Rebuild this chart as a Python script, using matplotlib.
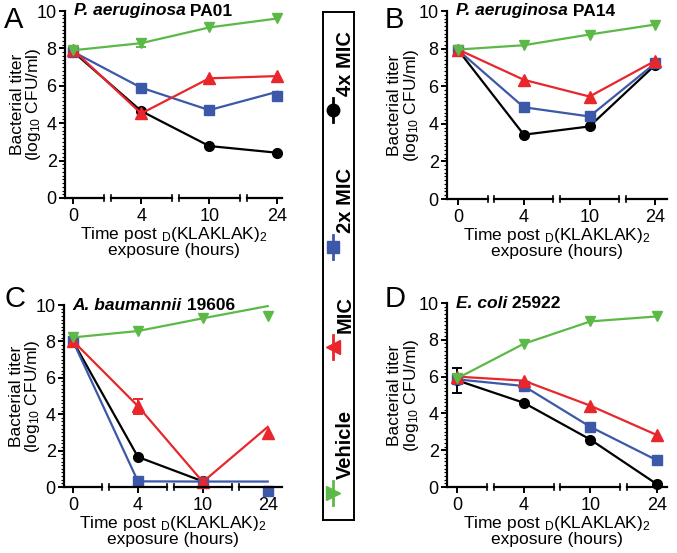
import numpy as np
import matplotlib
matplotlib.use('Agg')
import matplotlib.pyplot as plt
from matplotlib.ticker import MultipleLocator

plt.rcParams['font.family'] = ['Liberation Sans', 'DejaVu Sans']
plt.rcParams['mathtext.fontset'] = 'custom'
plt.rcParams['mathtext.rm'] = 'Liberation Sans'
plt.rcParams['mathtext.it'] = 'Liberation Sans:italic'

# Data (log10 CFU/ml)
time_labels = ['0', '4', '10', '24']

a_vehicle = [7.9, 8.28, 9.12, 9.6]
a_mic = [7.92, 4.52, 6.4, 6.52]
a_2x = [7.82, 5.9, 4.7, 5.45]
a_2x_line = [7.82, 5.9, 4.7, 5.68]
a_4x = [7.82, 4.65, 2.78, 2.42]
a_vehicle_err = [0, 0.22, 0, 0]

b_vehicle = [7.95, 8.18, 8.75, 9.28]
b_mic = [7.95, 6.34, 5.45, 7.35]
b_2x = [7.92, 4.88, 4.39, 7.22]
b_4x = [7.92, 3.42, 3.86, 7.13]

c_vehicle = [8.22, 8.57, 9.27, 9.41]
c_vehicle_line = [8.22, 8.57, 9.27, 9.94]
c_mic = [8.02, 4.44, 0.28, 2.94]
c_mic_line = [8.02, 4.44, 0.28, 3.3]
c_2x = [8.0, 0.31, 0.3, -0.22]
c_2x_line = [8.0, 0.31, 0.3, 0.3]
c_4x = [8.0, 1.65, 0.31, np.nan]
c_mic_err = [0, 0.42, 0, 0]

d_vehicle = [5.9, 7.78, 9.0, 9.27]
d_mic = [6.0, 5.78, 4.42, 2.82]
d_2x = [5.85, 5.49, 3.27, 1.45]
d_4x = [5.8, 4.58, 2.58, 0.15]
d_4x_err = [0.68, 0, 0, 0]

green = '#5db947'
red = '#e8262b'
blue = '#3c58a8'
black = '#000000'

fig = plt.figure(figsize=(6.77, 5.53), dpi=100)
W, H = 677, 553


def px_axes(left, right, top, bottom):
    return fig.add_axes([left / W, (H - bottom) / H, (right - left) / W, (bottom - top) / H])


def draw_series(ax, vals, color, marker, ms, line=None, err=None, z=2):
    x = np.arange(len(vals))
    lv = vals if line is None else line
    ax.plot(x, lv, color=color, lw=1.6, zorder=z, clip_on=False)
    ax.plot(x, vals, color=color, marker=marker, ms=ms, ls='none', zorder=z + 0.1, clip_on=False)
    if err is not None:
        e = np.array(err, dtype=float)
        m = e > 0
        ax.errorbar(x[m], np.array(vals)[m], yerr=e[m], fmt='none', ecolor=color,
                    elinewidth=1.4, capsize=3.5, capthick=1.4, zorder=z, clip_on=False)


def style_axes(ax, xlim, letter, species, strain, letter_xy, ylab_x):
    ax.set_xlim(*xlim)
    ax.set_ylim(0, 10)
    ax.set_yticks([0, 2, 4, 6, 8, 10])
    ax.yaxis.set_minor_locator(MultipleLocator(0.2))
    ax.set_xticks(range(4))
    ax.set_xticklabels(time_labels)
    ax.tick_params(axis='both', labelsize=13, width=1.4, length=4, direction='out', pad=2)
    ax.tick_params(axis='y', which='minor', width=0.8, length=2.5)
    ax.tick_params(axis='x', pad=3)
    for s in ['top', 'right', 'bottom']:
        ax.spines[s].set_visible(False)
    ax.spines['left'].set_linewidth(1.6)
    # broken x axis
    gap = 0.05
    edges = [xlim[0], 0.5, 1.5, 2.5, xlim[1]]
    tr = ax.get_xaxis_transform()
    for i in range(4):
        x0 = edges[i] + (gap if i > 0 else 0)
        x1 = edges[i + 1] - (gap if i < 3 else 0)
        ax.plot([x0, x1], [0, 0], color='black', lw=1.6, transform=tr, clip_on=False, zorder=5)
        if i > 0:
            ax.plot([x0, x0], [-0.015, 0.015], color='black', lw=1.2, transform=tr, clip_on=False)
        if i < 3:
            ax.plot([x1, x1], [-0.015, 0.015], color='black', lw=1.2, transform=tr, clip_on=False)
    ax.set_ylabel('Bacterial titer\n(log$_{10}$ CFU/ml)', fontsize=12.5, linespacing=0.95)
    ax.yaxis.set_label_coords(ylab_x, 0.5)
    ax.set_xlabel('Time post $_{\\mathrm{D}}$(KLAKLAK)$_2$\nexposure (hours)', fontsize=12.5,
                  labelpad=0, linespacing=0.92)
    t = ax.text(0.04, 1.0, species, transform=ax.transAxes, fontsize=12.5, fontweight='bold',
                fontstyle='italic', va='center', ha='left')
    ax.annotate(' ' + strain, xy=(1, 0), xycoords=t, fontsize=12.5, fontweight='bold',
                va='bottom', ha='left')
    fig.text(letter_xy[0] / W, 1 - letter_xy[1] / H, letter, fontsize=21, ha='left', va='top')


def draw_panel(ax, veh, mic, x2, x4, lines=None, errs=None):
    lines = lines or {}
    errs = errs or {}
    draw_series(ax, x4, black, 'o', 7, lines.get('4x'), errs.get('4x'), z=2)
    draw_series(ax, x2, blue, 's', 7, lines.get('2x'), errs.get('2x'), z=3)
    draw_series(ax, mic, red, '^', 8.5, lines.get('mic'), errs.get('mic'), z=4)
    draw_series(ax, veh, green, 'v', 7.5, lines.get('veh'), errs.get('veh'), z=5)


axA = px_axes(65, 282, 11, 198)
draw_panel(axA, a_vehicle, a_mic, a_2x, a_4x, lines={'2x': a_2x_line}, errs={'veh': a_vehicle_err})
style_axes(axA, (-0.12, 3.07), 'A', 'P. aeruginosa', 'PA01', (4, 6), -0.10)

axB = px_axes(447, 667, 11, 199)
draw_panel(axB, b_vehicle, b_mic, b_2x, b_4x)
style_axes(axB, (-0.17, 3.18), 'B', 'P. aeruginosa', 'PA14', (385, 6), -0.12)

axC = px_axes(64, 282, 305, 487)
draw_panel(axC, c_vehicle, c_mic, c_2x, c_4x,
           lines={'veh': c_vehicle_line, 'mic': c_mic_line, '2x': c_2x_line}, errs={'mic': c_mic_err})
style_axes(axC, (-0.14, 3.22), 'C', 'A. baumannii', '19606', (4, 285), -0.10)

axD = px_axes(447, 667, 303, 487)
draw_panel(axD, d_vehicle, d_mic, d_2x, d_4x, errs={'4x': d_4x_err})
style_axes(axD, (-0.15, 3.15), 'D', 'E. coli', '25922', (385, 285), -0.12)

# vertical legend box (entries read bottom to top)
legend_labels = ['Vehicle', 'MIC', '2x MIC', '4x MIC']
legend_colors = [green, red, blue, black]
legend_markers = ['>', '<', 's', 'o']
legend_pos = [0.053, 0.34, 0.537, 0.807]

lax = px_axes(323, 354, 12, 520)
lax.set_xlim(0, 1)
lax.set_ylim(0, 1)
lax.set_xticks([])
lax.set_yticks([])
for s in lax.spines.values():
    s.set_linewidth(1.4)
for lab, col, mk, yp in zip(legend_labels, legend_colors, legend_markers, legend_pos):
    lax.plot([0.32, 0.32], [yp - 0.024, yp + 0.024], color=col, lw=2)
    lax.plot(0.32, yp, marker=mk, color=col, ms=10 if mk in '<>' else 9, ls='none')
    lax.text(0.71, yp + 0.028, lab, rotation=90, fontsize=14.5, fontweight='bold',
             ha='center', va='bottom')

fig.savefig('out.png', dpi=100)
